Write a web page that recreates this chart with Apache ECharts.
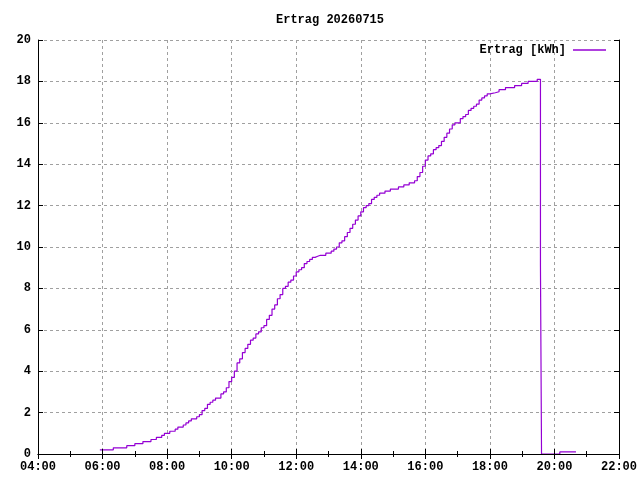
<!DOCTYPE html>
<html>
<head>
<meta charset="utf-8">
<script src="https://cdn.jsdelivr.net/npm/echarts@6/dist/echarts.min.js"></script>
<style>html,body{margin:0;padding:0;background:#fff}#c{width:640px;height:480px}</style>
</head>
<body>
<div id="c"></div>
<script>
var titleText = "Ertrag 20260715";
var seriesName = "Ertrag [kWh]";
var times = ["05:55","06:00","06:05","06:10","06:15","06:20","06:25","06:30","06:35","06:40","06:45","06:50","06:55",
"07:00","07:05","07:10","07:15","07:20","07:25","07:30","07:35","07:40","07:45","07:50","07:55",
"08:00","08:05","08:10","08:15","08:20","08:25","08:30","08:35","08:40","08:45","08:50","08:55",
"09:00","09:05","09:10","09:15","09:20","09:25","09:30","09:35","09:40","09:45","09:50","09:55",
"10:00","10:05","10:10","10:15","10:20","10:25","10:30","10:35","10:40","10:45","10:50","10:55",
"11:00","11:05","11:10","11:15","11:20","11:25","11:30","11:35","11:40","11:45","11:50","11:55",
"12:00","12:05","12:10","12:15","12:20","12:25","12:30","12:35","12:40","12:45","12:50","12:55",
"13:00","13:05","13:10","13:15","13:20","13:25","13:30","13:35","13:40","13:45","13:50","13:55",
"14:00","14:05","14:10","14:15","14:20","14:25","14:30","14:35","14:40","14:45","14:50","14:55",
"15:00","15:05","15:10","15:15","15:20","15:25","15:30","15:35","15:40","15:45","15:50","15:55",
"16:00","16:05","16:10","16:15","16:20","16:25","16:30","16:35","16:40","16:45","16:50","16:55",
"17:00","17:05","17:10","17:15","17:20","17:25","17:30","17:35","17:40","17:45","17:50","17:55",
"18:00","18:10","18:17","18:29","18:46","18:59","19:11","19:28","19:34","19:36","20:10","20:40"];
var values = [0.2,0.2,0.2,0.2,0.2,0.3,0.3,0.3,0.3,0.3,0.4,0.4,0.4,
0.5,0.5,0.5,0.6,0.6,0.6,0.7,0.7,0.8,0.8,0.9,1.0,
1.0,1.1,1.1,1.2,1.3,1.3,1.4,1.5,1.6,1.7,1.7,1.8,
1.9,2.1,2.2,2.4,2.5,2.6,2.7,2.7,2.9,3.0,3.2,3.5,
3.7,4.0,4.4,4.6,4.9,5.1,5.3,5.5,5.6,5.8,5.9,6.1,
6.2,6.5,6.7,7.0,7.2,7.5,7.7,8.0,8.1,8.3,8.4,8.6,
8.8,8.9,9.0,9.2,9.3,9.4,9.5,9.55,9.6,9.6,9.6,9.7,
9.7,9.8,9.9,10.0,10.2,10.3,10.5,10.7,10.9,11.1,11.3,11.5,
11.7,11.9,12.0,12.1,12.3,12.4,12.5,12.6,12.6,12.7,12.7,12.8,
12.8,12.8,12.9,12.9,13.0,13.0,13.1,13.1,13.2,13.4,13.6,13.9,
14.2,14.4,14.5,14.7,14.8,14.9,15.1,15.3,15.5,15.7,15.9,16.0,
16.0,16.2,16.3,16.4,16.6,16.7,16.8,16.9,17.1,17.2,17.3,17.4,
17.45,17.5,17.6,17.7,17.8,17.9,18.0,18.1,9.1,0,0.1,0.1];
var xTickHours = [4,6,8,10,12,14,16,18,20,22];
var yMin = 0, yMax = 20, yStep = 2;

function toHours(t){var p=t.split(':');return (+p[0])+(+p[1])/60;}
var data = times.map(function(t,i){return [toHours(t), values[i]];});
function fmtHour(v){var h=Math.round(v);return (h<10?'0':'')+h+':00';}

var FONT = '"Liberation Mono","DejaVu Sans Mono",monospace';
var axisLineStyle = {color:'#000', width:1};
var gridStyle = {color:'#a0a0a0', width:1, type:[3,3]};
var xMin = xTickHours[0], xMax = xTickHours[xTickHours.length-1];

var chart = echarts.init(document.getElementById('c'), null, {renderer:'canvas'});
chart.setOption({
  animation:false,
  backgroundColor:'#fff',
  title:{text:titleText, left:276, top:14, padding:0,
    textStyle:{fontFamily:FONT, fontSize:12, fontWeight:'bold', color:'#000'}},
  legend:{data:[seriesName], right:34, top:44, padding:0, align:'right', icon:'rect',
    itemWidth:33, itemHeight:1.5, itemGap:0,
    textStyle:{fontFamily:FONT, fontSize:12, fontWeight:'bold', color:'#000', padding:[0,2,0,0]}},
  grid:{left:38, right:19, top:40, bottom:26, containLabel:false},
  xAxis:[{
    type:'value', min:xMin, max:xMax, interval:2, z:10,
    axisLine:{show:true, lineStyle:axisLineStyle},
    axisTick:{show:true, inside:true, length:5, lineStyle:axisLineStyle},
    minorTick:{show:true, splitNumber:2, length:3, lineStyle:axisLineStyle},
    splitLine:{show:false},
    axisLabel:{formatter:fmtHour, margin:7, fontFamily:FONT, fontSize:12, fontWeight:'bold', color:'#000',
      showMinLabel:true, showMaxLabel:true}
  },{
    type:'value', position:'top', min:xMin, max:xMax, interval:2, z:0,
    axisLine:{show:true, lineStyle:axisLineStyle},
    axisTick:{show:true, inside:true, length:5, lineStyle:axisLineStyle},
    minorTick:{show:true, splitNumber:2, length:3, lineStyle:axisLineStyle},
    splitLine:{show:true, lineStyle:gridStyle}, axisLabel:{show:false}
  }],
  yAxis:[{
    type:'value', min:yMin, max:yMax, interval:yStep,
    axisLine:{show:true, lineStyle:axisLineStyle},
    axisTick:{show:true, inside:true, length:5, lineStyle:axisLineStyle},
    splitLine:{show:true, lineStyle:gridStyle},
    axisLabel:{margin:7, fontFamily:FONT, fontSize:12, fontWeight:'bold', color:'#000'}
  },{
    type:'value', position:'right', min:yMin, max:yMax, interval:yStep,
    axisLine:{show:true, lineStyle:axisLineStyle},
    axisTick:{show:true, inside:true, length:5, lineStyle:axisLineStyle},
    splitLine:{show:false}, axisLabel:{show:false}
  }],
  series:[{
    name:seriesName, type:'line', step:'end', data:data,
    xAxisIndex:0, yAxisIndex:0,
    symbol:'none', showSymbol:false,
    lineStyle:{color:'#9400d3', width:1.2},
    itemStyle:{color:'#9400d3'},
    z:5
  }]
});
</script>
</body>
</html>
